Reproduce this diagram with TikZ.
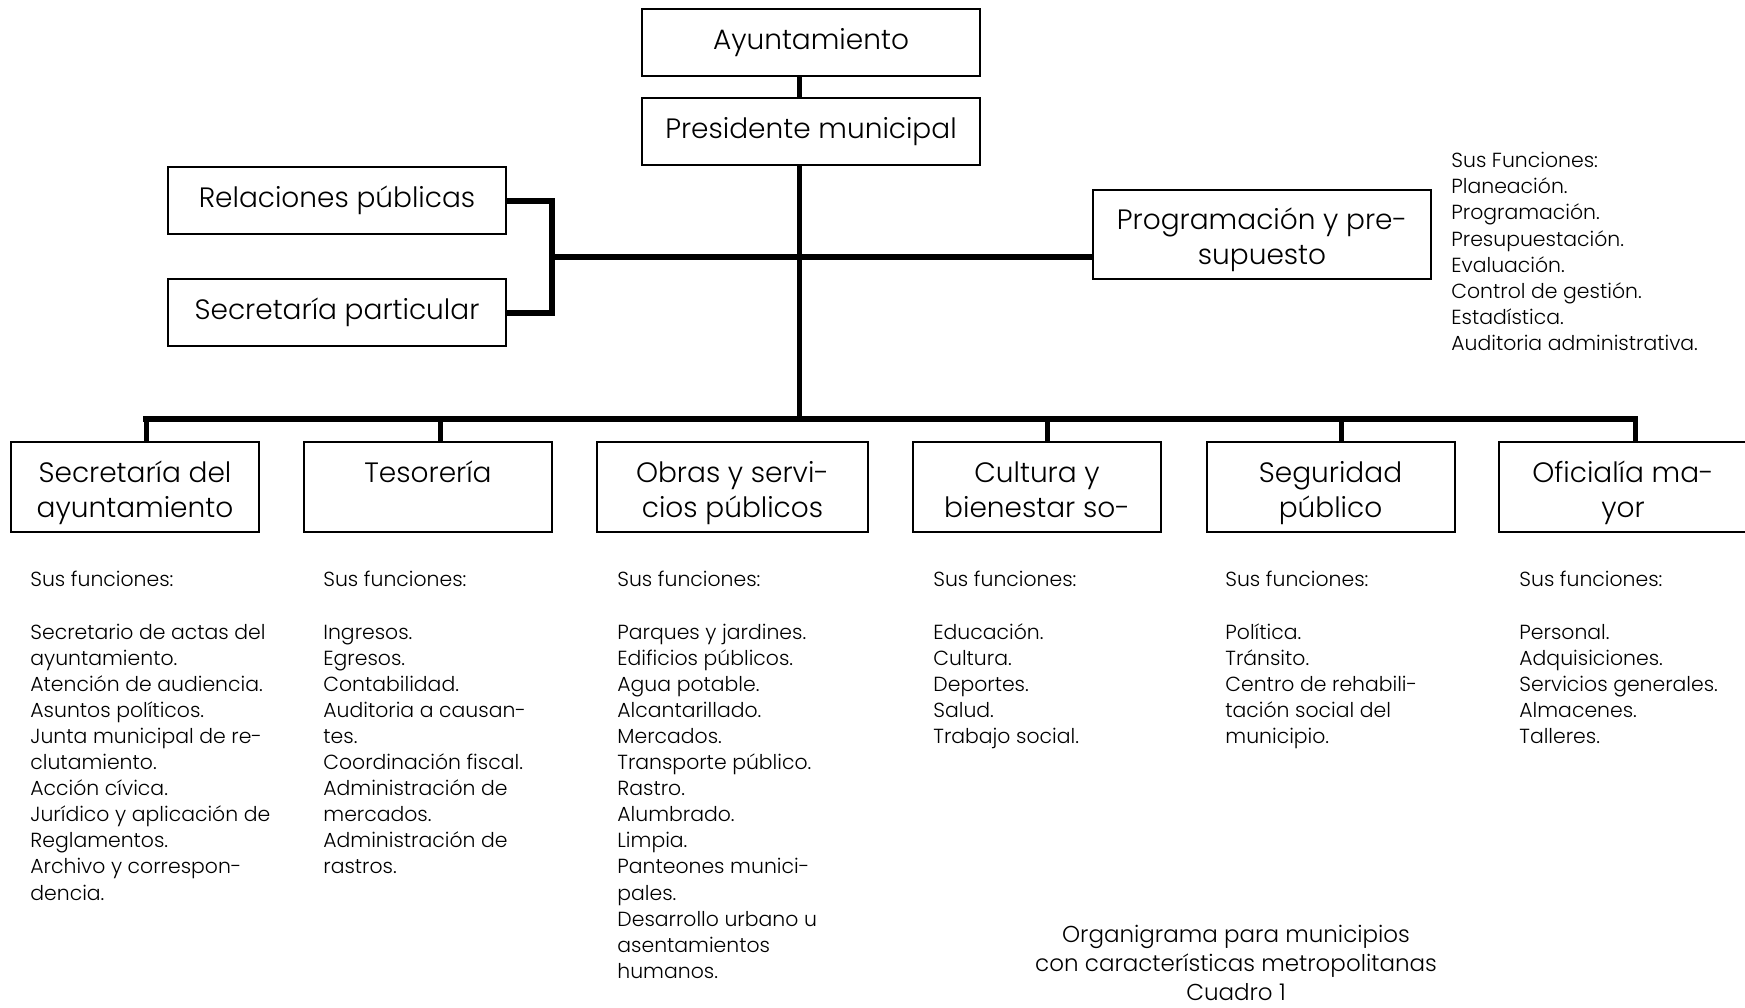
\documentclass[tikz,border=0pt]{standalone}
\usepackage{fontspec}
\setmainfont{Poppins Light}
\newcommand\fstrut{\rule{0pt}{18.5pt}}
\begin{document}
\begin{tikzpicture}[x=0.5pt,y=-0.5pt,
  box/.style={draw, line width=1pt, inner sep=0pt, align=center,
    font=\fontsize{14}{17.8}\selectfont},
  topbox/.style={box, minimum width=169pt, minimum height=33.5pt},
  botbox/.style={box, minimum width=124pt, minimum height=45pt},
  funcs/.style={inner sep=0pt, align=left, anchor=north west,
    font=\fontsize{10.2}{13.05}\selectfont},
  thick line/.style={line width=3pt},
  mid line/.style={line width=2.5pt}]
\useasboundingbox (0,0) rectangle (1745,1007);
\fill[white] (0,0) rectangle (1745,1007);

% top
\node[topbox] (ayun) at (811,42.5) {\strut Ayuntamiento};
\node[topbox] (pres) at (811,131) {\strut Presidente municipal};
\node[topbox] (rel) at (337,200.5) {\strut Relaciones públicas};
\node[topbox] (secp) at (337,312.5) {\strut Secretaría particular};
\node[topbox, minimum height=44.5pt] (prog) at (1262,234) {\fstrut Programación y pre-\\\strut supuesto};

% bottom boxes
\node[botbox] (sa) at (135,487) {\fstrut Secretaría del\\\strut ayuntamiento};
\node[botbox] (tes) at (428,487) {\fstrut Tesorería\\\strut};
\node[botbox, minimum width=135.5pt] (obr) at (732.5,487) {\fstrut Obras y servi-\\\strut cios públicos};
\node[botbox] (cul) at (1037,487) {\fstrut Cultura y\\\strut bienestar so-};
\node[botbox] (seg) at (1330.5,487) {\fstrut Seguridad\\\strut público};
\node[botbox] (ofi) at (1623,487) {\fstrut Oficialía ma-\\\strut yor};

% connectors
\coordinate (busL) at (146,419);
\coordinate (busR) at (1635,419);
\coordinate (busM) at (799,419);
\coordinate (dTes) at (440,419);
\coordinate (dCul) at (1047,419);
\coordinate (dSeg) at (1341,419);
\coordinate (brk) at (552,257);
\coordinate (brkT) at (552,200.5);
\coordinate (brkB) at (552,312.5);

\draw[mid line] (ayun.south -| busM) -- (pres.north -| busM);
\draw[mid line] (pres.south -| busM) -- (busM);
\draw[thick line] (rel.east) -- (brkT) -- (brkB) -- (secp.east);
\draw[thick line] (brk) -- (brk -| prog.west);
\draw[thick line, line cap=rect] (busL) -- (busR);
\draw[mid line] (busL) -- (busL |- sa.north);
\draw[mid line] (dTes) -- (dTes |- tes.north);
\draw[mid line] (dCul) -- (dCul |- cul.north);
\draw[mid line] (dSeg) -- (dSeg |- seg.north);
\draw[mid line] (busR) -- (busR |- ofi.north);

% function lists
\node[funcs] (fprog) at (1451,152) {Sus Funciones:\\Planeación.\\Programación.\\Presupuestación.\\Evaluación.\\Control de gestión.\\Estadística.\\Auditoria administrativa.};

\node[funcs] (fsa) at (30,571) {Sus funciones:\\[13.05pt]Secretario de actas del\\ayuntamiento.\\Atención de audiencia.\\Asuntos políticos.\\Junta municipal de re-\\clutamiento.\\Acción cívica.\\Jurídico y aplicación de\\Reglamentos.\\Archivo y correspon-\\dencia.};
\node[funcs] (ftes) at (323,571) {Sus funciones:\\[13.05pt]Ingresos.\\Egresos.\\Contabilidad.\\Auditoria a causan-\\tes.\\Coordinación fiscal.\\Administración de\\mercados.\\Administración de\\rastros.};
\node[funcs] (fobr) at (617,571) {Sus funciones:\\[13.05pt]Parques y jardines.\\Edificios públicos.\\Agua potable.\\Alcantarillado.\\Mercados.\\Transporte público.\\Rastro.\\Alumbrado.\\Limpia.\\Panteones munici-\\pales.\\Desarrollo urbano u\\asentamientos\\humanos.};
\node[funcs] (fcul) at (933,571) {Sus funciones:\\[13.05pt]Educación.\\Cultura.\\Deportes.\\Salud.\\Trabajo social.};
\node[funcs] (fseg) at (1225,571) {Sus funciones:\\[13.05pt]Política.\\Tránsito.\\Centro de rehabili-\\tación social del\\municipio.};
\node[funcs] (fofi) at (1519,571) {Sus funciones:\\[13.05pt]Personal.\\Adquisiciones.\\Servicios generales.\\Almacenes.\\Talleres.};

\node[inner sep=0pt, align=center, font=\fontsize{11.5}{14.5}\selectfont] (cap) at (1236,963)
  {Organigrama para municipios\\con características metropolitanas\\Cuadro 1};
\end{tikzpicture}
\end{document}
